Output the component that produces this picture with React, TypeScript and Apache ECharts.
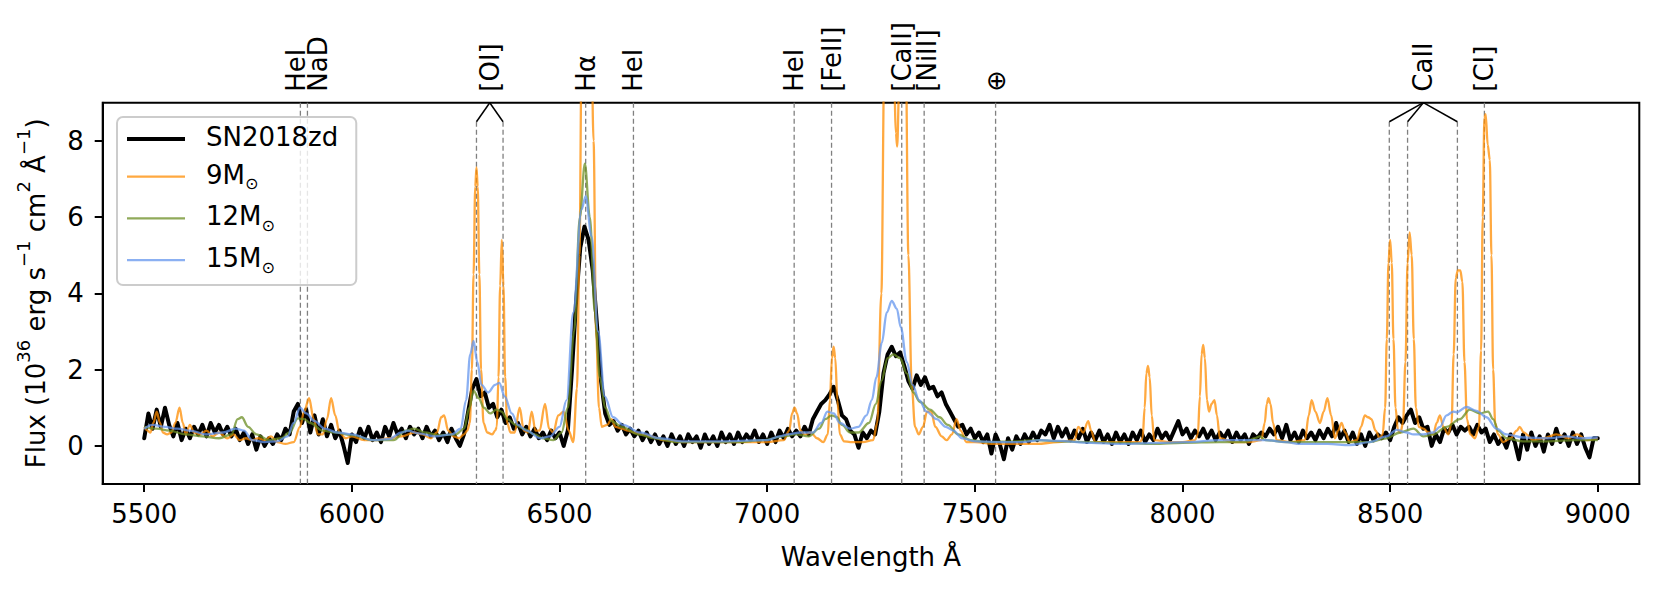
import React, { useEffect, useRef } from 'react';
import * as echarts from 'echarts';

const FONT = 'DejaVu Sans';
const X_MIN = 5400;
const X_MAX = 9100;
const Y_MIN = -1;
const Y_MAX = 9;
const BRACKET_Y = 8.5;
const X_TICKS = [5500, 6000, 6500, 7000, 7500, 8000, 8500, 9000];
const Y_TICKS = [0, 2, 4, 6, 8];

const SERIES_NAMES = ['SN2018zd', '9M', '12M', '15M'];

// Observed spectrum SN2018zd: [wavelength Å, flux]
const SN2018ZD: number[][] = [
  [5500, 0.2], [5510, 0.85], [5520, 0.45], [5530, 0.95], [5540, 0.5], [5550, 1.0], [5560, 0.55], [5570, 0.25], [5580, 0.6], [5590, 0.15],
  [5600, 0.45], [5610, 0.2], [5620, 0.5], [5630, 0.3], [5640, 0.55], [5650, 0.25], [5660, 0.6], [5670, 0.35], [5680, 0.55], [5690, 0.3],
  [5700, 0.5], [5710, 0.25], [5720, 0.45], [5730, 0.15], [5740, 0.35], [5750, 0.05], [5760, 0.3], [5770, -0.1], [5780, 0.25], [5790, 0.0],
  [5800, 0.2], [5810, 0.05], [5820, 0.3], [5830, 0.15], [5840, 0.45], [5850, 0.3], [5860, 0.9], [5870, 1.1], [5880, 0.6], [5890, 0.95],
  [5900, 0.35], [5910, 0.8], [5920, 0.3], [5930, 0.7], [5940, 0.25], [5950, 0.55], [5960, 0.2], [5970, 0.4], [5980, 0.0], [5990, -0.45],
  [6000, 0.3], [6010, 0.1], [6020, 0.45], [6030, 0.2], [6040, 0.5], [6050, 0.15], [6060, 0.35], [6070, 0.1], [6080, 0.5], [6090, 0.25],
  [6100, 0.6], [6110, 0.3], [6120, 0.45], [6130, 0.2], [6140, 0.5], [6150, 0.3], [6160, 0.45], [6170, 0.2], [6180, 0.5], [6190, 0.25],
  [6200, 0.4], [6210, 0.15], [6220, 0.35], [6230, 0.1], [6240, 0.45], [6250, 0.2], [6260, 0.0], [6270, 0.3], [6280, 0.9], [6290, 1.5],
  [6300, 1.75], [6310, 1.3], [6320, 1.4], [6330, 1.0], [6340, 1.1], [6350, 0.75], [6360, 0.95], [6370, 0.6], [6380, 0.75], [6390, 0.45],
  [6400, 0.6], [6410, 0.3], [6420, 0.5], [6430, 0.25], [6440, 0.45], [6450, 0.2], [6460, 0.35], [6470, 0.15], [6480, 0.4], [6490, 0.2],
  [6500, 0.35], [6510, 0.0], [6520, 0.4], [6530, 2.0], [6540, 3.8], [6550, 5.2], [6560, 5.75], [6570, 5.4], [6580, 4.6], [6590, 3.2],
  [6600, 1.7], [6610, 0.85], [6620, 0.55], [6630, 0.65], [6640, 0.4], [6650, 0.55], [6660, 0.3], [6670, 0.45], [6680, 0.25], [6690, 0.4],
  [6700, 0.15], [6710, 0.35], [6720, 0.1], [6730, 0.3], [6740, 0.05], [6750, 0.25], [6760, 0.0], [6770, 0.3], [6780, 0.05], [6790, 0.25],
  [6800, 0.0], [6810, 0.3], [6820, 0.1], [6830, 0.25], [6840, -0.05], [6850, 0.3], [6860, 0.05], [6870, 0.25], [6880, 0.0], [6890, 0.35],
  [6900, 0.1], [6910, 0.3], [6920, 0.05], [6930, 0.35], [6940, 0.1], [6950, 0.3], [6960, 0.15], [6970, 0.4], [6980, 0.1], [6990, 0.3],
  [7000, 0.05], [7010, 0.35], [7020, 0.1], [7030, 0.4], [7040, 0.2], [7050, 0.45], [7060, 0.25], [7070, 0.4], [7080, 0.25], [7090, 0.5],
  [7100, 0.3], [7110, 0.7], [7120, 0.9], [7130, 1.1], [7140, 1.2], [7150, 1.35], [7160, 1.55], [7170, 1.2], [7180, 0.8], [7190, 0.7],
  [7200, 0.4], [7210, 0.3], [7220, -0.05], [7230, 0.35], [7240, 0.2], [7250, 0.4], [7260, 0.3], [7270, 0.9], [7280, 1.9], [7290, 2.4],
  [7300, 2.6], [7310, 2.35], [7320, 2.45], [7330, 2.1], [7340, 1.7], [7350, 1.5], [7360, 1.85], [7370, 1.6], [7380, 1.8], [7390, 1.5],
  [7400, 1.55], [7410, 1.3], [7420, 1.4], [7430, 1.1], [7440, 0.9], [7450, 0.7], [7460, 0.5], [7470, 0.55], [7480, 0.3], [7490, 0.45],
  [7500, 0.2], [7510, 0.35], [7520, 0.1], [7530, 0.3], [7540, -0.2], [7550, 0.3], [7560, 0.05], [7570, -0.35], [7580, 0.2], [7590, -0.1],
  [7600, 0.25], [7610, 0.05], [7620, 0.3], [7630, 0.1], [7640, 0.35], [7650, 0.15], [7660, 0.4], [7670, 0.3], [7680, 0.55], [7690, 0.2],
  [7700, 0.5], [7710, 0.25], [7720, 0.45], [7730, 0.15], [7740, 0.4], [7750, 0.2], [7760, 0.45], [7770, 0.1], [7780, 0.35], [7790, 0.15],
  [7800, 0.4], [7810, 0.1], [7820, 0.3], [7830, 0.05], [7840, 0.35], [7850, 0.1], [7860, 0.3], [7870, 0.05], [7880, 0.35], [7890, 0.15],
  [7900, 0.4], [7910, 0.1], [7920, 0.3], [7930, 0.15], [7940, 0.45], [7950, 0.2], [7960, 0.35], [7970, 0.15], [7980, 0.4], [7990, 0.65],
  [8000, 0.3], [8010, 0.45], [8020, 0.2], [8030, 0.4], [8040, 0.25], [8050, 0.45], [8060, 0.2], [8070, 0.4], [8080, 0.15], [8090, 0.35],
  [8100, 0.2], [8110, 0.4], [8120, 0.1], [8130, 0.35], [8140, 0.15], [8150, 0.3], [8160, 0.05], [8170, 0.3], [8180, 0.2], [8190, 0.35],
  [8200, 0.25], [8210, 0.45], [8220, 0.3], [8230, 0.5], [8240, 0.2], [8250, 0.55], [8260, 0.15], [8270, 0.35], [8280, 0.1], [8290, 0.4],
  [8300, 0.2], [8310, 0.35], [8320, 0.15], [8330, 0.4], [8340, 0.2], [8350, 0.45], [8360, 0.25], [8370, 0.6], [8380, 0.2], [8390, 0.4],
  [8400, 0.1], [8410, 0.35], [8420, 0.05], [8430, 0.3], [8440, 0.0], [8450, 0.35], [8460, 0.15], [8470, 0.3], [8480, 0.2], [8490, 0.35],
  [8500, 0.15], [8510, 0.5], [8520, 0.75], [8530, 0.6], [8540, 0.8], [8550, 0.95], [8560, 0.6], [8570, 0.75], [8580, 0.45], [8590, 0.5],
  [8600, 0.0], [8610, 0.3], [8620, 0.1], [8630, 0.45], [8640, 0.35], [8650, 0.55], [8660, 0.3], [8670, 0.5], [8680, 0.4], [8690, 0.5],
  [8700, 0.3], [8710, 0.55], [8720, 0.35], [8730, 0.45], [8740, 0.1], [8750, 0.3], [8760, 0.05], [8770, 0.2], [8780, -0.05], [8790, 0.3],
  [8800, 0.1], [8810, -0.35], [8820, 0.3], [8830, -0.1], [8840, 0.35], [8850, 0.0], [8860, 0.25], [8870, -0.15], [8880, 0.3], [8890, 0.05],
  [8900, 0.45], [8910, 0.1], [8920, 0.3], [8930, 0.0], [8940, 0.35], [8950, 0.05], [8960, 0.3], [8970, -0.05], [8980, -0.3], [8990, 0.2],
  [9000, 0.2],
];

// 9 Msun model
const M9: number[][] = [
  [5500, 0.5], [5508, 0.4], [5515, 0.35], [5522, 0.6], [5530, 0.9], [5538, 0.6], [5545, 0.35], [5555, 0.3], [5565, 0.35], [5575, 0.6],
  [5585, 1.0], [5593, 0.6], [5600, 0.3], [5610, 0.55], [5620, 0.35], [5635, 0.3], [5650, 0.4], [5665, 0.25], [5680, 0.35], [5700, 0.2],
  [5715, 0.3], [5730, 0.15], [5745, 0.2], [5760, 0.15], [5775, 0.2], [5790, 0.15], [5805, 0.25], [5820, 0.1], [5840, 0.05], [5860, 0.1],
  [5875, 0.5], [5885, 0.9], [5897, 1.25], [5908, 0.7], [5918, 0.3], [5930, 0.3], [5940, 0.7], [5950, 1.25], [5960, 0.8], [5970, 0.35],
  [5985, 0.2], [6000, 0.25], [6030, 0.15], [6060, 0.15], [6090, 0.2], [6120, 0.25], [6150, 0.35], [6170, 0.3], [6190, 0.2], [6205, 0.35],
  [6215, 0.75], [6222, 0.8], [6232, 0.4], [6245, 0.25], [6258, 0.2], [6270, 0.3], [6278, 0.4], [6284, 0.6], [6289, 2.0], [6293, 4.5],
  [6297, 6.8], [6300, 7.3], [6303, 6.8], [6307, 4.5], [6311, 2.0], [6317, 0.6], [6326, 0.35], [6338, 0.3], [6345, 0.4], [6349, 0.5],
  [6353, 1.8], [6357, 4.2], [6361, 5.4], [6365, 4.2], [6369, 1.8], [6374, 0.6], [6382, 0.35], [6392, 0.35], [6404, 1.0], [6414, 0.4],
  [6424, 0.35], [6433, 0.9], [6442, 0.4], [6452, 0.4], [6465, 1.1], [6475, 0.45], [6485, 0.35], [6497, 0.8], [6510, 0.9], [6522, 0.4],
  [6533, 0.1], [6542, 1.5], [6548, 5.0], [6553, 10.0], [6560, 16.0], [6567, 16.0], [6575, 12.0], [6582, 8.0], [6588, 3.0], [6595, 1.0],
  [6602, 0.5], [6615, 0.55], [6625, 0.7], [6635, 0.5], [6650, 0.45], [6665, 0.4], [6680, 0.35], [6700, 0.3], [6720, 0.25], [6750, 0.15],
  [6800, 0.1], [6850, 0.1], [6900, 0.1], [6950, 0.1], [7000, 0.1], [7040, 0.15], [7053, 0.4], [7060, 0.85], [7066, 1.0], [7072, 0.85],
  [7080, 0.4], [7090, 0.3], [7105, 0.35], [7120, 0.2], [7135, 0.1], [7146, 0.3], [7151, 1.2], [7156, 2.3], [7160, 2.6], [7164, 2.3],
  [7169, 1.2], [7175, 0.3], [7185, 0.12], [7200, 0.1], [7230, 0.1], [7255, 0.15], [7265, 0.6], [7275, 4.0], [7282, 10.0], [7292, 14.0],
  [7302, 12.0], [7310, 8.2], [7313, 7.85], [7318, 9.5], [7326, 13.0], [7333, 11.0], [7340, 5.0], [7348, 1.6], [7356, 0.5], [7365, 0.3],
  [7375, 0.5], [7385, 0.9], [7395, 0.9], [7405, 0.5], [7420, 0.25], [7432, 0.15], [7445, 0.3], [7456, 0.7], [7466, 0.4], [7480, 0.1],
  [7500, 0.1], [7550, 0.05], [7600, 0.05], [7650, 0.05], [7700, 0.1], [7740, 0.15], [7749, 0.5], [7761, 0.35], [7773, 0.65], [7780, 0.4],
  [7790, 0.1], [7820, 0.1], [7860, 0.1], [7898, 0.1], [7904, 0.2], [7909, 1.0], [7913, 1.9], [7917, 2.1], [7921, 1.8], [7926, 0.8],
  [7932, 0.15], [7970, 0.1], [8000, 0.1], [8030, 0.15], [8037, 0.3], [8042, 1.3], [8046, 2.4], [8050, 2.65], [8054, 2.3], [8059, 1.2],
  [8064, 0.9], [8070, 1.1], [8077, 1.2], [8083, 0.8], [8090, 0.2], [8120, 0.1], [8160, 0.1], [8190, 0.15], [8198, 0.6], [8203, 1.1],
  [8207, 1.25], [8212, 1.1], [8218, 0.6], [8227, 0.15], [8260, 0.1], [8295, 0.15], [8304, 0.8], [8311, 1.2], [8320, 0.9], [8331, 0.6],
  [8340, 0.9], [8349, 1.25], [8358, 0.8], [8367, 0.2], [8375, 0.4], [8383, 0.6], [8392, 0.35], [8403, 0.1], [8420, 0.15], [8430, 0.5],
  [8439, 0.8], [8447, 0.75], [8455, 0.7], [8465, 0.4], [8475, 0.2], [8482, 0.3], [8488, 1.0], [8492, 2.8], [8496, 4.8], [8500, 5.4],
  [8504, 4.8], [8508, 2.8], [8513, 1.0], [8519, 0.4], [8525, 0.35], [8531, 0.6], [8537, 2.2], [8542, 4.8], [8547, 5.6], [8552, 5.0],
  [8557, 2.8], [8562, 1.0], [8569, 0.5], [8580, 0.45], [8592, 0.35], [8604, 0.3], [8612, 0.6], [8620, 0.8], [8628, 0.5], [8640, 0.3],
  [8648, 0.6], [8653, 2.4], [8658, 4.4], [8663, 4.6], [8669, 4.6], [8674, 4.3], [8679, 2.2], [8685, 0.7], [8693, 0.3], [8704, 0.2],
  [8714, 0.5], [8719, 2.5], [8723, 6.0], [8727, 8.6], [8730, 8.7], [8735, 7.9], [8740, 7.5], [8744, 5.0], [8748, 2.0], [8753, 0.6],
  [8760, 0.3], [8772, 0.1], [8790, 0.2], [8805, 0.4], [8812, 0.5], [8822, 0.35], [8845, 0.15], [8870, 0.2], [8900, 0.3], [8930, 0.2],
  [8950, 0.3], [8975, 0.15], [9000, 0.2],
];

// 12 Msun model
const M12: number[][] = [
  [5500, 0.5], [5530, 0.45], [5560, 0.4], [5600, 0.3], [5640, 0.25], [5680, 0.2], [5710, 0.3], [5725, 0.7], [5735, 0.75], [5750, 0.5],
  [5770, 0.3], [5800, 0.15], [5830, 0.2], [5850, 0.35], [5870, 0.72], [5885, 0.7], [5900, 0.6], [5930, 0.4], [5960, 0.35], [6000, 0.28],
  [6050, 0.15], [6100, 0.15], [6130, 0.4], [6150, 0.45], [6175, 0.35], [6210, 0.28], [6250, 0.3], [6270, 0.45], [6283, 1.0], [6293, 1.45],
  [6305, 1.25], [6318, 1.0], [6333, 0.85], [6348, 0.95], [6360, 0.9], [6375, 0.7], [6395, 0.55], [6413, 0.45], [6440, 0.3], [6460, 0.2],
  [6485, 0.15], [6505, 0.35], [6520, 1.0], [6535, 3.0], [6549, 6.0], [6561, 7.4], [6573, 6.0], [6585, 3.5], [6597, 1.8], [6610, 1.0],
  [6625, 0.65], [6650, 0.5], [6690, 0.3], [6730, 0.2], [6780, 0.1], [6850, 0.1], [6930, 0.1], [6990, 0.15], [7040, 0.25], [7070, 0.3],
  [7100, 0.25], [7125, 0.45], [7140, 0.7], [7155, 0.8], [7168, 0.75], [7180, 0.55], [7200, 0.35], [7220, 0.35], [7245, 0.6], [7262, 1.1],
  [7275, 1.7], [7290, 2.3], [7304, 2.4], [7320, 2.3], [7336, 1.9], [7352, 1.4], [7368, 1.15], [7392, 0.95], [7415, 0.75], [7435, 0.55],
  [7460, 0.3], [7490, 0.15], [7530, 0.1], [7600, 0.12], [7650, 0.15], [7700, 0.12], [7770, 0.1], [7850, 0.08], [7930, 0.05], [8000, 0.08],
  [8090, 0.1], [8150, 0.1], [8175, 0.2], [8186, 0.25], [8200, 0.15], [8250, 0.1], [8350, 0.1], [8450, 0.1], [8491, 0.2], [8524, 0.35],
  [8556, 0.45], [8580, 0.25], [8604, 0.3], [8636, 0.5], [8668, 0.7], [8692, 0.95], [8716, 0.85], [8736, 0.9], [8748, 0.7], [8760, 0.4],
  [8780, 0.2], [8820, 0.12], [8880, 0.12], [8950, 0.15], [9000, 0.15],
];

// 15 Msun model
const M15: number[][] = [
  [5500, 0.45], [5520, 0.55], [5550, 0.5], [5580, 0.45], [5610, 0.4], [5650, 0.3], [5690, 0.35], [5720, 0.45], [5740, 0.4], [5760, 0.15],
  [5790, 0.1], [5820, 0.12], [5845, 0.25], [5860, 0.6], [5875, 1.0], [5890, 0.85], [5910, 0.65], [5935, 0.45], [5965, 0.35], [6000, 0.3],
  [6050, 0.15], [6090, 0.18], [6120, 0.35], [6135, 0.4], [6160, 0.33], [6200, 0.25], [6240, 0.3], [6262, 0.45], [6275, 1.2], [6285, 2.4],
  [6293, 2.75], [6302, 2.2], [6312, 1.6], [6328, 1.4], [6345, 1.6], [6355, 1.65], [6368, 1.3], [6385, 0.85], [6400, 0.55], [6421, 0.4],
  [6453, 0.2], [6477, 0.25], [6500, 0.5], [6517, 1.2], [6533, 3.5], [6553, 6.2], [6563, 6.55], [6577, 5.5], [6593, 3.0], [6609, 1.3],
  [6629, 0.75], [6653, 0.55], [6694, 0.35], [6740, 0.2], [6800, 0.12], [6900, 0.12], [7000, 0.15], [7030, 0.25], [7050, 0.3], [7080, 0.35],
  [7110, 0.35], [7130, 0.6], [7145, 0.9], [7160, 0.85], [7175, 0.6], [7200, 0.45], [7220, 0.5], [7239, 0.8], [7252, 1.2], [7263, 1.8],
  [7276, 2.7], [7288, 3.5], [7300, 3.8], [7312, 3.6], [7322, 3.1], [7336, 2.2], [7350, 1.6], [7366, 1.2], [7384, 0.9], [7408, 0.7],
  [7430, 0.5], [7448, 0.4], [7470, 0.2], [7500, 0.12], [7560, 0.1], [7610, 0.1], [7660, 0.15], [7700, 0.13], [7780, 0.08], [7850, 0.05],
  [7950, 0.08], [8010, 0.1], [8090, 0.15], [8150, 0.15], [8200, 0.15], [8250, 0.1], [8283, 0.05], [8350, 0.05], [8403, 0.02], [8450, 0.1],
  [8491, 0.25], [8516, 0.42], [8540, 0.35], [8556, 0.3], [8580, 0.3], [8604, 0.35], [8620, 0.5], [8636, 0.8], [8652, 0.9], [8660, 0.88],
  [8684, 1.02], [8708, 0.92], [8732, 0.75], [8756, 0.45], [8780, 0.3], [8820, 0.22], [8880, 0.2], [8925, 0.25], [8960, 0.2], [9000, 0.22],
];

// Line identifications
const LINE_LABELS = ['HeI', 'NaD', '[OI]', 'Hα', 'HeI', 'HeI', '[FeII]', '[CaII]', '[NiII]', '⊕', 'CaII', '[CI]'];
const LABEL_WAVES = [5876, 5893, 6332, 6563, 6678, 7065, 7155, 7324, 7378, 7550, 8580, 8727];
const LINE_WAVES: number[][] = [
  [5876], [5893], [6300, 6364], [6563], [6678], [7065], [7155], [7324], [7378], [7550], [8498, 8542, 8662], [8727],
];
// label pixel nudges (style only)
const LABEL_DX = [-4, 11, 0, 0, 0, 0, 0, 0, 3, 0, 0, 0];

const COLORS = {
  sn: '#000000',
  m9: 'rgba(255,140,0,0.75)',
  m12: 'rgba(107,142,35,0.75)',
  m15: 'rgba(100,149,237,0.75)',
};
const LINE_WIDTH_SN = 4;
const LINE_WIDTH_MODEL = 2.3;

export default function App() {
  const ref = useRef<HTMLDivElement>(null);

  useEffect(() => {
    if (!ref.current) return;
    const chart = echarts.init(ref.current, undefined, { renderer: 'svg' });

    const renderItem = (params: any, api: any) => {
      const i = params.dataIndex;
      const waves = LINE_WAVES[i];
      const grouped = waves.length > 1;
      const apex = api.coord([LABEL_WAVES[i], Y_MAX]);
      const children: any[] = [];
      for (const w of waves) {
        const start = api.coord([w, grouped ? BRACKET_Y : Y_MAX]);
        const end = api.coord([w, Y_MIN]);
        children.push({
          type: 'line',
          shape: { x1: start[0], y1: start[1], x2: end[0], y2: end[1] },
          style: { stroke: '#808080', lineWidth: 1.3, lineDash: [5, 3] },
        });
        if (grouped) {
          children.push({
            type: 'line',
            shape: { x1: apex[0], y1: apex[1], x2: start[0], y2: start[1] },
            style: { stroke: '#000', lineWidth: 1.5 },
          });
        }
      }
      children.push({
        type: 'text',
        x: apex[0] + LABEL_DX[i],
        y: apex[1] - 11,
        rotation: Math.PI / 2,
        style: {
          text: LINE_LABELS[i],
          fill: '#000',
          fontSize: 26,
          fontFamily: FONT,
          align: 'left',
          verticalAlign: 'middle',
        },
      });
      return { type: 'group', children };
    };

    const modelLine = (name: string, data: number[][], color: string, z: number) => ({
      name,
      type: 'line',
      data,
      showSymbol: false,
      symbol: 'none',
      smooth: 0.35,
      smoothMonotone: 'x',
      clip: true,
      z,
      lineStyle: { color, width: LINE_WIDTH_MODEL },
      itemStyle: { color },
      emphasis: { disabled: true },
    });

    const legendIcon = (h: number) => `path://M0 0H58V${h}H0Z`;

    const option: any = {
      animation: false,
      textStyle: { fontFamily: FONT },
      grid: {
        left: 102.7,
        top: 102.7,
        right: 20.7,
        bottom: 114,
        show: true,
        borderColor: '#000',
        borderWidth: 2,
        backgroundColor: 'transparent',
        containLabel: false,
        outerBoundsMode: 'none',
      },
      legend: {
        data: [
          { name: SERIES_NAMES[0], icon: legendIcon(LINE_WIDTH_SN), itemStyle: { color: COLORS.sn } },
          { name: SERIES_NAMES[1], icon: legendIcon(LINE_WIDTH_MODEL), itemStyle: { color: COLORS.m9 } },
          { name: SERIES_NAMES[2], icon: legendIcon(LINE_WIDTH_MODEL), itemStyle: { color: COLORS.m12 } },
          { name: SERIES_NAMES[3], icon: legendIcon(LINE_WIDTH_MODEL), itemStyle: { color: COLORS.m15 } },
        ],
        orient: 'vertical',
        left: 117,
        top: 117,
        padding: [7, 18, 10, 10],
        itemWidth: 58,
        itemHeight: 14,
        itemGap: 11.7,
        symbolKeepAspect: true,
        backgroundColor: 'rgba(255,255,255,0.8)',
        borderColor: '#cccccc',
        borderWidth: 2,
        borderRadius: 6,
        selectedMode: false,
        formatter: (name: string) => (name === 'SN2018zd' ? '{n|SN2018zd}' : `{n|${name}}{s|⊙}`),
        textStyle: {
          padding: [0, 0, 0, 16],
          rich: {
            n: { fontSize: 26, lineHeight: 30, verticalAlign: 'top', color: '#000', fontFamily: FONT },
            s: { fontSize: 16, lineHeight: 13, verticalAlign: 'bottom', color: '#000', fontFamily: FONT },
          },
        },
      },
      xAxis: {
        type: 'value',
        min: X_MIN,
        max: X_MAX,
        name: 'Wavelength Å',
        nameLocation: 'middle',
        nameGap: 60,
        nameTextStyle: { fontSize: 26, color: '#000', fontFamily: FONT },
        axisLine: { show: true, onZero: false, lineStyle: { color: '#000', width: 2 } },
        axisTick: { show: true, inside: false, length: 8, customValues: X_TICKS, lineStyle: { color: '#000', width: 2 } },
        axisLabel: {
          customValues: X_TICKS,
          formatter: (v: number) => String(v),
          margin: 17,
          fontSize: 26,
          color: '#000',
          fontFamily: FONT,
        },
        splitLine: { show: false },
      },
      yAxis: {
        type: 'value',
        min: Y_MIN,
        max: Y_MAX,
        name: '{n|Flux (10}{s|36}{n| erg s}{s|−1}{n| cm}{s|2}{n| Å}{s|−1}{n|)}',
        nameLocation: 'middle',
        nameRotate: 90,
        nameGap: 54,
        nameTextStyle: {
          color: '#000',
          fontFamily: FONT,
          rich: {
            n: { fontSize: 26, lineHeight: 34, verticalAlign: 'bottom', color: '#000', fontFamily: FONT },
            s: { fontSize: 18, lineHeight: 20, verticalAlign: 'top', color: '#000', fontFamily: FONT },
          },
        },
        axisLine: { show: true, onZero: false, lineStyle: { color: '#000', width: 2 } },
        axisTick: { show: true, inside: false, length: 8, customValues: Y_TICKS, lineStyle: { color: '#000', width: 2 } },
        axisLabel: {
          customValues: Y_TICKS,
          formatter: (v: number) => String(v),
          margin: 19,
          fontSize: 26,
          color: '#000',
          fontFamily: FONT,
        },
        splitLine: { show: false },
      },
      series: [
        {
          type: 'custom',
          name: 'lines',
          data: LABEL_WAVES.map((w) => [w, Y_MAX]),
          renderItem,
          clip: false,
          silent: true,
          z: 1,
        },
        {
          name: 'SN2018zd',
          type: 'line',
          data: SN2018ZD,
          showSymbol: false,
          symbol: 'none',
          clip: true,
          z: 2,
          lineStyle: { color: COLORS.sn, width: LINE_WIDTH_SN, join: 'round', cap: 'round' },
          itemStyle: { color: COLORS.sn },
          emphasis: { disabled: true },
        },
        modelLine('9M', M9, COLORS.m9, 3),
        modelLine('12M', M12, COLORS.m12, 4),
        modelLine('15M', M15, COLORS.m15, 5),
      ],
    };

    chart.setOption(option);
    return () => chart.dispose();
  }, []);

  return <div ref={ref} style={{ position: 'absolute', left: 0, top: 0, width: 1660, height: 598 }} />;
}
